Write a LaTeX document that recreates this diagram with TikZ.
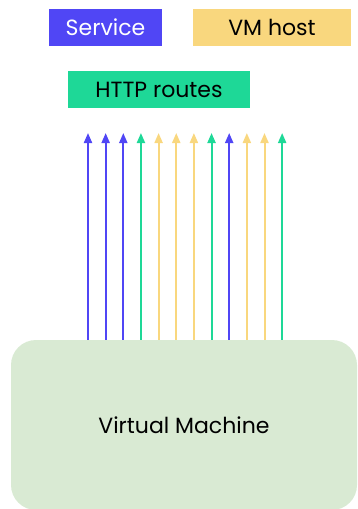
\documentclass[tikz,border=0pt]{standalone}
\usepackage{fontspec}
\setmainfont{Poppins}
\usepackage{xcolor}
\usetikzlibrary{arrows.meta, positioning}
\definecolor{svcblue}{HTML}{5046F5}
\definecolor{hostyellow}{HTML}{F9D77E}
\definecolor{routegreen}{HTML}{1ED897}
\definecolor{vmgreen}{HTML}{D9EAD3}

\begin{document}
\begin{tikzpicture}[x=1pt, y=-1pt, >={Triangle[width=8pt,length=10pt]},
    legend/.style={minimum height=37pt, inner sep=0pt, font=\fontsize{22}{26}\selectfont}]
    \useasboundingbox (0,0) rectangle (358,509);
    % 1. Legend
    \node[legend, fill=svcblue, text=white, minimum width=113pt] (service) at (105.5,27.5) {Service};
    \node[legend, fill=hostyellow, minimum width=158pt] (vmhost) at (272,27.5) {VM host};
    \node[legend, fill=routegreen, minimum width=182pt] (routes) at (159,89.5) {HTTP routes};
    
    % 2. The virtual machine
    \node[fill=vmgreen, rounded corners=25pt, minimum width=346pt, minimum height=170pt,
        font=\fontsize{22}{26}\selectfont] (vm) at (184,425) {Virtual Machine};
    
    % 3. Routes going up out of the VM
    \foreach \c [count=\i] in {svcblue,svcblue,svcblue,routegreen,hostyellow,hostyellow,
        hostyellow,routegreen,svcblue,hostyellow,hostyellow,routegreen} {
        \coordinate (tip\i) at (70.35+17.65*\i, 133);
        \draw[->, \c, line width=2pt] (vm.north -| tip\i) -- (tip\i);
    }
\end{tikzpicture}
\end{document}
